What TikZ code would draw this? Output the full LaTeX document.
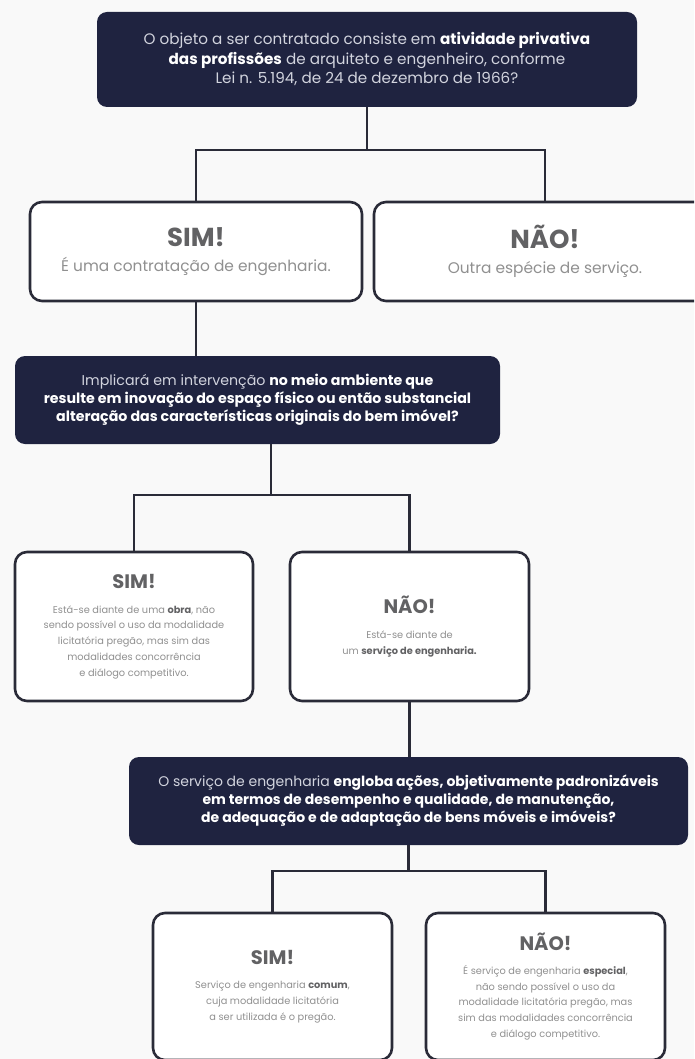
\documentclass[tikz,border=0pt]{standalone}
\usepackage{fontspec}
\setmainfont{Poppins}
\definecolor{navy}{HTML}{1F2340}
\definecolor{edge}{HTML}{2A2B38}
\definecolor{titlegrey}{HTML}{626264}
\definecolor{bodygrey}{HTML}{909090}
\definecolor{paper}{HTML}{F9F9F9}
\definecolor{softwhite}{HTML}{D2D4DE}
\newcommand*{\hl}[1]{{\bfseries\color{white}#1}}
\newcommand*{\dk}[1]{{\bfseries\color{titlegrey}#1}}

\begin{document}
\begin{tikzpicture}[x=1pt, y=1pt,
    question/.style={fill=navy, rounded corners=10pt, align=center, text=softwhite, inner sep=0pt},
    answer/.style={draw=edge, line width=2.6pt, fill=white, rounded corners=12pt, align=center, text=bodygrey, inner sep=0pt},
    link/.style={draw=edge, line width=2.6pt}]
		\fill[paper] (0,0) rectangle (694,-1059);
		\clip (0,0) rectangle (694,-1059);

		\node[question, minimum width=540, minimum height=95,
		  font=\fontsize{15.2}{19.5}\selectfont] (q1) at (367,-59.5)
		  {O objeto a ser contratado consiste em \hl{atividade privativa}\\
		   \hl{das profissões} de arquiteto e engenheiro, conforme\\
		   Lei n. 5.194, de 24 de dezembro de 1966?};
		\node[answer, minimum width=332, minimum height=99,
		  font=\fontsize{15.4}{20}\selectfont] (sim1) at (196,-251.5)
		  {{\fontsize{26}{28}\selectfont\dk{SIM!}}\\[5pt] É uma contratação de engenharia.};
		\node[answer, minimum width=342, minimum height=99,
		  font=\fontsize{15.4}{20}\selectfont] (nao1) at (545,-251.5)
		  {{\fontsize{26}{28}\selectfont\dk{NÃO!}}\\[5pt] Outra espécie de serviço.};

		\node[question, minimum width=485, minimum height=88,
		  font=\fontsize{14.2}{18}\selectfont] (q2) at (257.5,-400)
		  {Implicará em intervenção \hl{no meio ambiente que}\\
		   \hl{resulte em inovação do espaço físico ou então substancial}\\
		   \hl{alteração das características originais do bem imóvel?}};
		\node[answer, minimum width=238, minimum height=149,
		  font=\fontsize{9.8}{15.7}\selectfont] (sim2) at (134,-626.5)
		  {{\fontsize{19.5}{21}\selectfont\dk{SIM!}}\\[9pt]
		   Está-se diante de uma \dk{obra}, não\\
		   sendo possível o uso da modalidade\\
		   licitatória pregão, mas sim das\\
		   modalidades concorrência\\
		   e diálogo competitivo.};
		\node[answer, minimum width=239, minimum height=149,
		  font=\fontsize{9.8}{15.7}\selectfont] (nao2) at (409.5,-626.5)
		  {{\fontsize{19.5}{21}\selectfont\dk{NÃO!}}\\[9pt]
		   Está-se diante de\\
		   um \dk{serviço de engenharia.}};

		\node[question, minimum width=559, minimum height=88,
		  font=\fontsize{14}{18}\selectfont] (q3) at (408.5,-801)
		  {O serviço de engenharia \hl{engloba ações, objetivamente padronizáveis}\\
		   \hl{em termos de desempenho e qualidade, de manutenção,}\\
		   \hl{de adequação e de adaptação de bens móveis e imóveis?}};
		\node[answer, minimum width=239, minimum height=147,
		  font=\fontsize{9.8}{15.7}\selectfont] (sim3) at (272.5,-986.5)
		  {{\fontsize{19.5}{21}\selectfont\dk{SIM!}}\\[9pt]
		   Serviço de engenharia \dk{comum},\\
		   cuja modalidade licitatória\\
		   a ser utilizada é o pregão.};
		\node[answer, minimum width=239, minimum height=147,
		  font=\fontsize{9.8}{15.7}\selectfont] (nao3) at (545.5,-986.5)
		  {{\fontsize{19.5}{21}\selectfont\dk{NÃO!}}\\[8pt]
		   É serviço de engenharia \dk{especial},\\
		   não sendo possível o uso da\\
		   modalidade licitatória pregão, mas\\
		   sim das modalidades concorrência\\
		   e diálogo competitivo.};

		\coordinate (J1) at (367,-150);
		\coordinate (J2) at (271,-495);
		\coordinate (J3) at (408.5,-871);
		\draw[link] (q1.south) -- (J1);
		\draw[link] (sim1.north) |- (J1) -| (nao1.north);
		\draw[link] (sim1.south) -- (sim1.south |- q2.north);
		\draw[link] (q2.south -| J2) -- (J2);
		\draw[link] (sim2.north) |- (J2) -| (nao2.north);
		\draw[link] (nao2.south) -- (nao2.south |- q3.north);
		\draw[link] (q3.south) -- (J3);
		\draw[link] (sim3.north) |- (J3) -| (nao3.north);
\end{tikzpicture}
\end{document}
